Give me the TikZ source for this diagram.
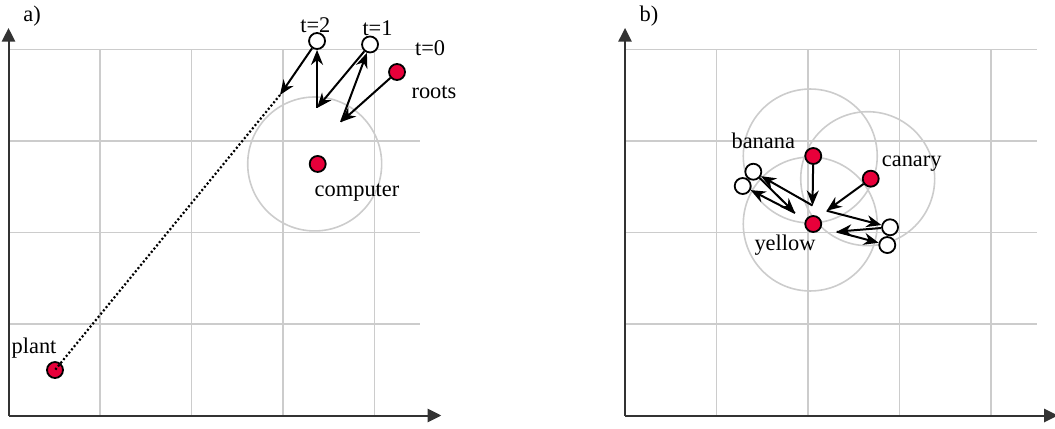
\documentclass[tikz,border=0pt]{standalone}
\usepackage{fontspec}
\setmainfont{Liberation Serif}
\usetikzlibrary{arrows.meta,backgrounds}
\definecolor{wordred}{RGB}{232,0,58}

\begin{document}
\begin{tikzpicture}[x=45.75pt,y=45.75pt,
  font=\fontsize{11.2}{13}\selectfont,
  gridline/.style={draw=black!20,line width=0.8pt},
  ring/.style={draw=black!20,line width=0.8pt},
  axis/.style={draw=black!80,line width=1pt,-{Triangle[length=6.8pt,width=6.6pt]}},
  word/.style={circle,draw,line width=0.9pt,fill=wordred,inner sep=0pt,minimum size=8pt},
  state/.style={circle,draw,line width=0.9pt,fill=white,inner sep=0pt,minimum size=8pt},
  vec/.style={line width=1pt,-{Stealth[length=7.5pt,width=6pt]}}]
  \useasboundingbox (-0.093,-0.137) rectangle (11.437,4.541);
  \def\bx{6.738}   % origin of panel b
  \def\rr{0.732}   % ring radius
  \foreach \ox in {0,\bx} {
    \foreach \i in {1,2,3,4} {
      \draw[gridline] (\ox+\i,0) -- (\ox+\i,4);
      \draw[gridline] (\ox,\i) -- (\ox+4.5,\i);
    }
    \draw[axis] (\ox,0) -- (\ox,4.235);
    \draw[axis] (\ox,0) -- (\ox+4.73,0);
  }
  \node (capa) at (0.257,4.366) {a)};
  \node (capb) at (\bx+0.262,4.366) {b)};

  % panel a
  \node[word] (plant) at (0.508,0.497) {};
  \node[word] (computer) at (3.379,2.749) {};
  \node[word] (roots) at (4.246,3.754) {};
  \node[state] (t1) at (3.951,4.055) {};
  \node[state] (t2) at (3.372,4.093) {};
  \node (lplant) at (0.279,0.738) {plant};
  \node (lcomputer) at (3.809,2.432) {computer};
  \node (lroots) at (4.650,3.536) {roots};
  \node (lt0) at (4.607,4.010) {t=0};
  \node (lt1) at (4.033,4.230) {t=1};
  \node (lt2) at (3.353,4.268) {t=2};
  \coordinate (pa) at (3.634,3.208);
  \coordinate (pb) at (3.372,3.361);
  \coordinate (pc) at (2.967,3.503);
  \draw[vec] (roots) -- (pa);
  \draw[vec] (pa) -- (t1);
  \draw[vec] (t1) -- (pb);
  \draw[vec] (pb) -- (t2);
  \draw[vec] (t2) -- (pc);
  \draw[line width=1.1pt,dash pattern=on 1pt off 1.1pt] (pc) -- (plant.center);

  % panel b
  \node[word] (banana) at (8.795,2.836) {};
  \node[word] (canary) at (9.423,2.588) {};
  \node[word] (yellow) at (8.795,2.093) {};
  \node[state] (s1l) at (8.140,2.664) {};
  \node[state] (s2l) at (8.024,2.508) {};
  \node[state] (s1r) at (9.634,2.057) {};
  \node[state] (s2r) at (9.604,1.863) {};
  \node (lbanana) at (8.249,3.005) {banana};
  \node (lcanary) at (9.871,2.749) {canary};
  \node (lyellow) at (8.486,1.863) {yellow};
  \coordinate (yb) at (8.787,2.295);
  \coordinate (yc) at (8.942,2.238);
  \coordinate (pl) at (8.596,2.213);
  \coordinate (pr) at (9.051,2.009);
  \draw[vec] (banana) -- (yb);
  \draw[vec] (canary) -- (yc);
  \draw[vec] (yb) -- (s1l);
  \draw[vec] (s1l) -- (pl);
  \draw[vec] (pl) -- (s2l);
  \draw[vec] (yc) -- (s1r);
  \draw[vec] (s1r) -- (pr);
  \draw[vec] (pr) -- (s2r);

  \begin{scope}[on background layer]
    \foreach \w in {computer,banana,canary,yellow}
      \draw[ring] ([xshift=-1.5pt]\w.center) circle (\rr);
  \end{scope}
\end{tikzpicture}
\end{document}
